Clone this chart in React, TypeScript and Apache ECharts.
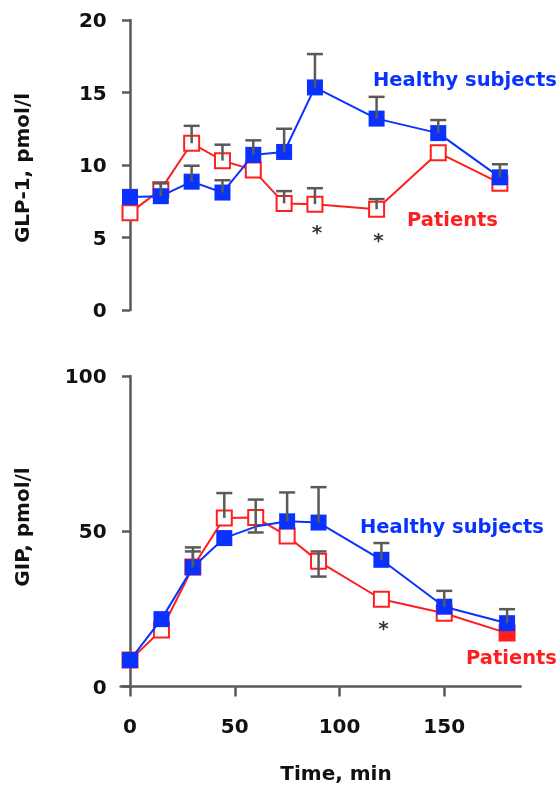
import React, { useEffect, useRef } from "react";
import * as echarts from "echarts";

// ---- data ----
const times = [0, 15, 30, 45, 60, 75, 90, 120, 150, 180];

const glpHealthy = [7.8, 7.85, 8.85, 8.1, 10.7, 10.9, 15.35, 13.2, 12.2, 9.15];
const glpHealthyErrUp = [0, 0.9, 1.1, 0.85, 1.0, 1.6, 2.3, 1.5, 0.9, 0.9];
const glpPatients = [6.7, 8.3, 11.5, 10.3, 9.65, 7.35, 7.3, 6.95, 10.85, 8.75];
const glpPatientsErrUp = [0, 0.45, 1.2, 1.1, 0, 0.85, 1.1, 0.7, 0, 0];
const glpAsterisks = [[90, 5.4], [120, 4.85]];

const gipHealthy = [8.5, 21.7, 38.4, 47.8, 51.5, 53.2, 52.8, 40.8, 25.7, 20.4];
const gipHealthyErrUp = [0, 0, 6.4, 0, 0, 9.3, 11.4, 5.4, 5.1, 4.5];
const gipPatients = [8.5, 18.2, 38.5, 54.3, 54.4, 48.5, 40.3, 28.1, 23.6, 17.2];
const gipPatientsErrUp = [0, 0, 5.0, 8.0, 5.8, 0, 3.2, 0, 0, 0];
const gipPatientsErrDown = [0, 0, 0, 0, 4.8, 0, 4.9, 0, 0, 0];
const gipAsterisks = [[120, 18.8]];

const glpTicks = [0, 5, 10, 15, 20];
const gipTicks = [0, 50, 100];
const timeTicks = [0, 50, 100, 150];

const BLUE = "#0a32ff";
const RED = "#ff1f1f";
const GRAY = "#5a5a5a";
const FONT = "Verdana, 'DejaVu Sans', sans-serif";

function errData(vals: number[], up: number[], down?: number[]) {
  return times
    .map((t, i) => [t, vals[i], up[i] || 0, down ? down[i] || 0 : 0])
    .filter((d) => d[2] > 0 || d[3] > 0);
}

function errRender(params: any, api: any) {
  const t = api.value(0);
  const m = api.value(1);
  const u = api.value(2);
  const d = api.value(3);
  const c = api.coord([t, m]);
  const hi = api.coord([t, m + u]);
  const lo = api.coord([t, m - d]);
  const cap = 8;
  const style = { stroke: GRAY, lineWidth: 2.5 };
  const children: any[] = [
    { type: "line", shape: { x1: c[0], y1: lo[1], x2: c[0], y2: hi[1] }, style },
  ];
  if (u > 0)
    children.push({ type: "line", shape: { x1: c[0] - cap, y1: hi[1], x2: c[0] + cap, y2: hi[1] }, style });
  if (d > 0)
    children.push({ type: "line", shape: { x1: c[0] - cap, y1: lo[1], x2: c[0] + cap, y2: lo[1] }, style });
  return { type: "group", children };
}

export default function App() {
  const ref = useRef<HTMLDivElement>(null);
  useEffect(() => {
    if (!ref.current) return;
    const chart = echarts.init(ref.current, null, { renderer: "svg" });

    const axisLabelStyle = { color: "#111", fontSize: 20, fontWeight: "bold" as const, fontFamily: FONT };

    const lineSeries = (
      name: string,
      vals: number[],
      idx: number,
      color: string,
      filled: boolean,
      z: number,
      overrides: Record<number, any> = {}
    ) => ({
      name,
      type: "line",
      xAxisIndex: idx,
      yAxisIndex: idx,
      z,
      data: times.map((t, i) =>
        overrides[t] ? { value: [t, vals[i]], ...overrides[t] } : [t, vals[i]]
      ),
      symbol: "rect",
      symbolSize: filled ? 16 : 15,
      showSymbol: true,
      lineStyle: { color, width: 2 },
      itemStyle: filled
        ? { color, borderColor: color, borderWidth: 0 }
        : { color: "#fff", borderColor: color, borderWidth: 2 },
      emphasis: { disabled: true },
    });

    const starSeries = (pts: number[][], idx: number) => ({
      type: "scatter",
      xAxisIndex: idx,
      yAxisIndex: idx,
      z: 6,
      symbolSize: 0,
      data: pts,
      label: {
        show: true,
        position: "inside",
        formatter: "*",
        color: "#000",
        fontSize: 20,
        fontWeight: "bold",
        fontFamily: FONT,
        offset: [2, 0],
      },
    });

    const errSeries = (data: number[][], idx: number) => ({
      type: "custom",
      xAxisIndex: idx,
      yAxisIndex: idx,
      z: 5,
      clip: false,
      data,
      encode: { x: 0, y: 1 },
      renderItem: errRender,
    });

    const titleFont = `bold 20px ${FONT}`;
    const noteFont = `bold 19.5px ${FONT}`;

    chart.setOption({
      animation: false,
      grid: [
        { left: 120.75, top: 20, width: 392.5, height: 290 },
        { left: 120.6, top: 376, width: 400.1, height: 310.5 },
      ],
      xAxis: [
        {
          gridIndex: 0,
          type: "value",
          min: -4.5,
          max: 186.5,
          show: false,
        },
        {
          gridIndex: 1,
          type: "value",
          min: -4.5,
          max: 186.5,
          splitLine: { show: false },
          axisLine: { show: true, onZero: true, lineStyle: { color: GRAY, width: 2.5 } },
          axisTick: {
            show: true,
            length: 10,
            inside: false,
            customValues: timeTicks,
            lineStyle: { color: GRAY, width: 2.5 },
          },
          axisLabel: { ...axisLabelStyle, margin: 29, customValues: timeTicks },
        },
      ],
      yAxis: [
        {
          gridIndex: 0,
          type: "value",
          min: 0,
          max: 20,
          interval: 5,
          splitLine: { show: false },
          axisLine: { show: true, onZero: true, lineStyle: { color: GRAY, width: 2.5 } },
          axisTick: { show: true, length: 8, lineStyle: { color: GRAY, width: 2.5 }, customValues: glpTicks },
          axisLabel: { ...axisLabelStyle, margin: 14, customValues: glpTicks },
        },
        {
          gridIndex: 1,
          type: "value",
          min: 0,
          max: 100,
          interval: 50,
          splitLine: { show: false },
          axisLine: { show: true, onZero: true, lineStyle: { color: GRAY, width: 2.5 } },
          axisTick: { show: true, length: 8, lineStyle: { color: GRAY, width: 2.5 }, customValues: gipTicks },
          axisLabel: { ...axisLabelStyle, margin: 14, customValues: gipTicks },
        },
      ],
      series: [
        lineSeries("GLP-1 Patients", glpPatients, 0, RED, false, 2),
        lineSeries("GLP-1 Healthy subjects", glpHealthy, 0, BLUE, true, 3),
        errSeries(errData(glpPatients, glpPatientsErrUp), 0),
        errSeries(errData(glpHealthy, glpHealthyErrUp), 0),
        starSeries(glpAsterisks, 0),
        lineSeries("GIP Patients", gipPatients, 1, RED, false, 2, {
          180: { itemStyle: { color: RED, borderColor: RED } },
        }),
        lineSeries("GIP Healthy subjects", gipHealthy, 1, BLUE, true, 3, {
          60: { symbolSize: 0 },
        }),
        errSeries(errData(gipPatients, gipPatientsErrUp, gipPatientsErrDown), 1),
        errSeries(errData(gipHealthy, gipHealthyErrUp), 1),
        starSeries(gipAsterisks, 1),
      ],
      graphic: [
        {
          type: "text",
          x: 373,
          y: 79,
          style: { text: "Healthy subjects", fill: BLUE, font: noteFont, textVerticalAlign: "middle" },
        },
        {
          type: "text",
          x: 407,
          y: 219,
          style: { text: "Patients", fill: RED, font: noteFont, textVerticalAlign: "middle" },
        },
        {
          type: "text",
          x: 360,
          y: 526,
          style: { text: "Healthy subjects", fill: BLUE, font: noteFont, textVerticalAlign: "middle" },
        },
        {
          type: "text",
          x: 466,
          y: 657,
          style: { text: "Patients", fill: RED, font: noteFont, textVerticalAlign: "middle" },
        },
        {
          type: "text",
          x: 22,
          y: 168,
          rotation: Math.PI / 2,
          style: { text: "GLP-1, pmol/l", fill: "#111", font: titleFont, textAlign: "center", textVerticalAlign: "middle" },
        },
        {
          type: "text",
          x: 22,
          y: 527,
          rotation: Math.PI / 2,
          style: { text: "GIP, pmol/l", fill: "#111", font: titleFont, textAlign: "center", textVerticalAlign: "middle" },
        },
        {
          type: "text",
          x: 336,
          y: 773,
          style: { text: "Time, min", fill: "#111", font: titleFont, textAlign: "center", textVerticalAlign: "middle" },
        },
      ],
    });
    return () => chart.dispose();
  }, []);
  return <div ref={ref} style={{ position: "fixed", left: 0, top: 0, width: 560, height: 787 }} />;
}
